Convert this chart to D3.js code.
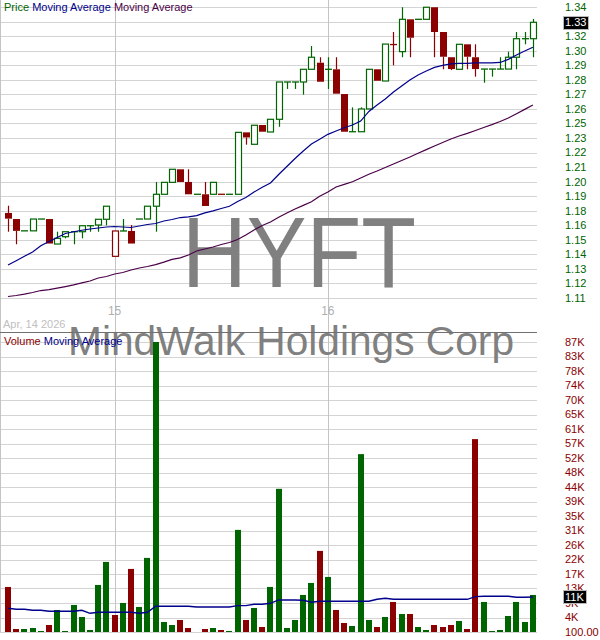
<!DOCTYPE html>
<html><head><meta charset="utf-8">
<script src="https://cdn.jsdelivr.net/npm/d3@7/dist/d3.min.js"></script>
<style>html,body{margin:0;padding:0;background:#fff;} svg{display:block;}</style>
</head><body>
<svg id="chart" width="600" height="640"></svg>
<script>
// ---- data (15-minute candles, Apr 14 – Apr 16 2026) ----
const openP = [1.1794,1.1745,1.1650,1.1650,1.1745,1.1745,1.1544,1.1603,1.1643,1.1643,
1.1691,1.1697,1.1743,1.1445,1.1649,1.1649,1.1745,1.1745,1.1848,1.1944,
1.2040,1.2145,1.2043,1.1944,1.1944,1.1944,1.1944,1.1944,1.1944,1.2442,
1.2346,1.2501,1.2445,1.2547,1.2847,1.2847,1.2847,1.2949,1.3002,1.2949,
1.2949,1.2750,1.2447,1.2447,1.2630,1.2949,1.2855,1.3148,1.3091,1.3351,
1.3351,1.3351,1.3448,1.3249,1.3046,1.2949,1.3150,1.3046,1.2951,1.2951,
1.2951,1.2951,1.3046,1.3195,1.3195];
const highP = [1.1852,1.1745,1.1650,1.1745,1.1745,1.1745,1.1643,1.1643,1.1643,1.1691,
1.1691,1.1743,1.1848,1.1649,1.1745,1.1697,1.1745,1.1848,1.2043,1.2040,
1.2145,1.2145,1.2145,1.1944,1.2043,1.2040,1.1944,1.1944,1.2442,1.2442,
1.2499,1.2501,1.2547,1.2847,1.2847,1.2847,1.2949,1.3136,1.3046,1.3046,
1.3046,1.2750,1.2643,1.2643,1.2949,1.2949,1.3152,1.3249,1.3448,1.3351,
1.3351,1.3448,1.3448,1.3249,1.3046,1.3150,1.3150,1.3150,1.2951,1.2951,
1.3046,1.3091,1.3249,1.3249,1.3354];
const lowP = [1.1643,1.1542,1.1650,1.1650,1.1745,1.1548,1.1544,1.1590,1.1542,1.1590,
1.1643,1.1643,1.1694,1.1445,1.1649,1.1548,1.1745,1.1745,1.1643,1.1944,
1.2040,1.2043,1.1944,1.1944,1.1850,1.1944,1.1944,1.1944,1.1944,1.2343,
1.2346,1.2447,1.2445,1.2487,1.2791,1.2791,1.2745,1.2949,1.2849,1.2791,
1.2753,1.2447,1.2447,1.2447,1.2630,1.2857,1.2855,1.2981,1.3046,1.3046,
1.3351,1.3351,1.3046,1.2949,1.2943,1.2949,1.2949,1.2890,1.2841,1.2890,
1.2951,1.2951,1.2949,1.3150,1.3046];
const closeP = [1.1748,1.1650,1.1650,1.1745,1.1745,1.1548,1.1590,1.1643,1.1643,1.1691,
1.1691,1.1743,1.1848,1.1649,1.1649,1.1548,1.1745,1.1848,1.1944,1.2040,
1.2145,1.2043,1.1944,1.1944,1.1850,1.2040,1.1944,1.1944,1.2442,1.2401,
1.2499,1.2447,1.2547,1.2847,1.2847,1.2847,1.2949,1.3046,1.2849,1.2949,
1.2753,1.2447,1.2447,1.2630,1.2949,1.2857,1.3152,1.3148,1.3351,1.3203,
1.3351,1.3448,1.3249,1.3050,1.2951,1.3150,1.3050,1.2951,1.2951,1.2951,
1.2951,1.3046,1.3195,1.3195,1.3327];
const volume = [13600,1000,1000,1300,400,2200,6700,400,8200,4600,
700,14200,21100,5200,8800,19000,7600,22300,87000,3100,
2200,3700,1300,100,1000,1300,700,400,30700,3700,
7300,1600,13600,43000,1300,3700,11200,14800,24400,16600,
6700,2800,1900,53400,3700,1600,4600,9100,5500,5500,
1600,700,2200,1600,2200,3400,1000,57900,9100,400,
700,4900,9100,3100,11200];
const maFast = [1.1375,1.1410,1.1445,1.1480,1.1530,1.1564,1.1597,1.1629,1.1643,1.1655,
1.1665,1.1673,1.1681,1.1685,1.1681,1.1677,1.1689,1.1701,1.1709,1.1729,
1.1741,1.1757,1.1763,1.1773,1.1794,1.1810,1.1830,1.1848,1.1886,1.1918,
1.1962,1.2000,1.2035,1.2103,1.2167,1.2232,1.2292,1.2348,1.2386,1.2426,
1.2453,1.2479,1.2501,1.2533,1.2610,1.2662,1.2710,1.2767,1.2815,1.2863,
1.2903,1.2935,1.2964,1.2980,1.2992,1.2996,1.2997,1.3000,1.3000,1.3001,
1.3004,1.3029,1.3064,1.3096,1.3126];
const maSlow = [1.1122,1.1130,1.1141,1.1154,1.1170,1.1178,1.1190,1.1202,1.1215,1.1231,
1.1247,1.1271,1.1283,1.1303,1.1315,1.1335,1.1351,1.1363,1.1379,1.1399,
1.1421,1.1433,1.1456,1.1488,1.1504,1.1520,1.1540,1.1556,1.1580,1.1617,
1.1657,1.1693,1.1721,1.1759,1.1794,1.1826,1.1855,1.1884,1.1928,1.1962,
1.2003,1.2024,1.2045,1.2075,1.2105,1.2131,1.2159,1.2188,1.2216,1.2244,
1.2274,1.2303,1.2332,1.2360,1.2389,1.2413,1.2434,1.2457,1.2481,1.2504,
1.2529,1.2557,1.2592,1.2627,1.2662];
const volMA = [7200,6900,6900,6600,6600,6300,6300,6300,6300,6600,
5700,6000,6000,6000,6000,6000,5700,6000,7800,7800,
7800,7800,7800,7600,7600,7600,7600,7600,8000,8000,
8400,8400,8700,9700,9700,9700,9600,9000,9300,9300,
9300,9300,9300,9300,9300,9900,10200,9900,9900,9900,
9900,9900,9900,9900,9900,9900,9900,10700,10800,10800,
10800,10800,10500,10500,10600];
const priceTicks = [1.3450,1.3333,1.3216,1.3099,1.2982,1.2865,1.2748,1.2631,1.2514,1.2397,
1.2280,1.2163,1.2046,1.1929,1.1812,1.1695,1.1578,1.1461,1.1344,1.1227,1.1110];
const priceTickLabels = ["1.34","1.33","1.32","1.30","1.29","1.28","1.27","1.26","1.25","1.23",
"1.22","1.21","1.20","1.19","1.18","1.16","1.15","1.14","1.13","1.12","1.11"];
const volTicks = [100,4445,8790,13135,17480,21825,26170,30515,34860,39205,43550,
47895,52240,56585,60930,65275,69620,73965,78310,82655,87000];
const volTickLabels = ["100.00","4K","9K","13K","17K","22K","26K","31K","35K","39K","44K",
"48K","52K","57K","61K","65K","70K","74K","78K","83K","87K"];
const dayStartIndex = [13, 39];
const dayLabels = ["15", "16"];
const dateLabel = "Apr, 14 2026";
const symbol = "HYFT";
const companyName = "MindWalk Holdings Corp";

// ---- drawing ----
const FONT = "'Liberation Sans', Arial, sans-serif";
const GREEN = "#006400", RED = "#8b0000";
const svg = d3.select("#chart");
const idx = d3.range(closeP.length);
const plotR = 537;
const x = d3.scalePoint().domain(idx).range([3.9, plotR]).padding(0.5);
const yP = d3.scaleLinear().domain([1.111, 1.345]).range([298, 7]);
const yV = d3.scaleLinear().domain([100, 87000]).range([632, 342]);
const crisp = v => Math.round(v) + 0.5;

svg.append("rect").attr("width", 600).attr("height", 640).attr("fill", "#fff");

const grid = svg.append("g");
grid.selectAll("line.pg").data(priceTicks).join("line")
  .attr("x1", 0).attr("x2", plotR).attr("y1", d => crisp(yP(d))).attr("y2", d => crisp(yP(d)))
  .attr("stroke", "#d4d4d4").attr("stroke-width", 1);
grid.selectAll("line.vg").data(volTicks).join("line")
  .attr("x1", 0).attr("x2", plotR).attr("y1", d => crisp(yV(d))).attr("y2", d => crisp(yV(d)))
  .attr("stroke", "#d4d4d4").attr("stroke-width", 1);
grid.selectAll("line.day").data(dayStartIndex).join("line")
  .attr("x1", d => crisp(x(d))).attr("x2", d => crisp(x(d))).attr("y1", 0).attr("y2", 632)
  .attr("stroke", "#c4c4c4");
grid.append("line").attr("x1", 0.5).attr("x2", 0.5).attr("y1", 0).attr("y2", 632).attr("stroke", "#c4c4c4");

// watermark
svg.append("text").attr("x", 299).attr("y", 287).attr("text-anchor", "middle")
  .attr("font-family", FONT).attr("font-size", 100).attr("fill", "#808080")
  .attr("textLength", 234).attr("lengthAdjust", "spacingAndGlyphs").text(symbol);
svg.append("text").attr("x", 291).attr("y", 355).attr("text-anchor", "middle")
  .attr("font-family", FONT).attr("font-size", 40).attr("fill", "#808080")
  .attr("textLength", 446).attr("lengthAdjust", "spacingAndGlyphs").text(companyName);

// separator between panels
svg.append("line").attr("x1", 0).attr("x2", plotR).attr("y1", 332.5).attr("y2", 332.5)
  .attr("stroke", "#707070").attr("stroke-width", 1);

// x labels
svg.selectAll("text.day").data(dayStartIndex).join("text")
  .attr("x", d => x(d)).attr("y", 315).attr("text-anchor", "middle")
  .attr("font-family", FONT).attr("font-size", 12).attr("fill", "#b0b0b0")
  .text((d, i) => dayLabels[i]);
svg.append("text").attr("x", 3).attr("y", 328).attr("font-family", FONT).attr("font-size", 11)
  .attr("fill", "#c0c0c0").text(dateLabel);

// candle colour: compare close to previous close
const isUp = i => closeP[i] >= (i === 0 ? openP[0] : closeP[i - 1]);
const col = i => isUp(i) ? GREEN : RED;

// volume bars
svg.append("g").selectAll("rect").data(idx).join("rect")
  .attr("x", i => Math.round(x(i) - 3)).attr("width", 6)
  .attr("y", i => yV(volume[i])).attr("height", i => yV(100) - yV(volume[i]))
  .attr("fill", col);

// candles
const cg = svg.append("g");
idx.forEach(i => {
  const cx = Math.round(x(i)) + 0.5, c = col(i);
  const o = openP[i], cl = closeP[i];
  const top = yP(Math.max(o, cl)), bot = yP(Math.min(o, cl));
  if (highP[i] > Math.max(o, cl))
    cg.append("line").attr("x1", cx).attr("x2", cx).attr("y1", yP(highP[i])).attr("y2", top)
      .attr("stroke", c).attr("stroke-width", 1.2);
  if (lowP[i] < Math.min(o, cl))
    cg.append("line").attr("x1", cx).attr("x2", cx).attr("y1", bot).attr("y2", yP(lowP[i]))
      .attr("stroke", c).attr("stroke-width", 1.2);
  if (cl === o) {
    cg.append("line").attr("x1", cx - 3.5).attr("x2", cx + 3.5).attr("y1", top).attr("y2", top)
      .attr("stroke", c).attr("stroke-width", 1.3);
  } else if (cl > o) {
    cg.append("rect").attr("x", cx - 3).attr("width", 6).attr("y", top).attr("height", bot - top)
      .attr("fill", "#fff").attr("stroke", c).attr("stroke-width", 1.2);
  } else {
    cg.append("rect").attr("x", cx - 3.5).attr("width", 7).attr("y", top).attr("height", bot - top)
      .attr("fill", c);
  }
});

// moving averages
const lineP = arr => d3.line().x((d, i) => x(i)).y(d => yP(d))(arr);
svg.append("path").attr("d", lineP(maSlow)).attr("fill", "none").attr("stroke", "#4a0048").attr("stroke-width", 1.2);
svg.append("path").attr("d", lineP(maFast)).attr("fill", "none").attr("stroke", "#00008b").attr("stroke-width", 1.2);
svg.append("path").attr("d", d3.line().x((d, i) => x(i)).y(d => yV(d))(volMA))
  .attr("fill", "none").attr("stroke", "#00008b").attr("stroke-width", 1.4);

// right axes labels
svg.selectAll("text.pl").data(priceTicks).join("text")
  .attr("x", 565).attr("y", d => yP(d)).attr("dy", "0.36em")
  .attr("font-family", FONT).attr("font-size", 11).attr("fill", GREEN)
  .text((d, i) => priceTickLabels[i]);
svg.selectAll("text.vl").data(volTicks).join("text")
  .attr("x", 565).attr("y", d => yV(d)).attr("dy", "0.36em")
  .attr("font-family", FONT).attr("font-size", 11).attr("fill", RED)
  .text((d, i) => volTickLabels[i]);

// last value boxes
const lastC = closeP[closeP.length - 1];
const lastV = volMA[volMA.length - 1];
function box(yc, label, w) {
  svg.append("rect").attr("x", 563.5).attr("y", Math.round(yc - 6.5) + 0.5).attr("width", w).attr("height", 13)
    .attr("fill", "#000").attr("stroke", "#b8b8b8");
  svg.append("text").attr("x", 565).attr("y", yc).attr("dy", "0.36em")
    .attr("font-family", FONT).attr("font-size", 11).attr("fill", "#fff").text(label);
}
box(yP(lastC), lastC.toFixed(2), 25);
box(yV(lastV), Math.round(lastV / 1000) + "K", 23);

// legends
const l1 = svg.append("text").attr("x", 4).attr("y", 11).attr("font-family", FONT).attr("font-size", 11);
l1.append("tspan").attr("fill", GREEN).text("Price ");
l1.append("tspan").attr("fill", "#00008b").text("Moving Average ");
l1.append("tspan").attr("fill", "#4a0048").text("Moving Average");
const l2 = svg.append("text").attr("x", 4).attr("y", 345).attr("font-family", FONT).attr("font-size", 11);
l2.append("tspan").attr("fill", RED).text("Volume ");
l2.append("tspan").attr("fill", "#00008b").text("Moving Average");
</script>
</body></html>
